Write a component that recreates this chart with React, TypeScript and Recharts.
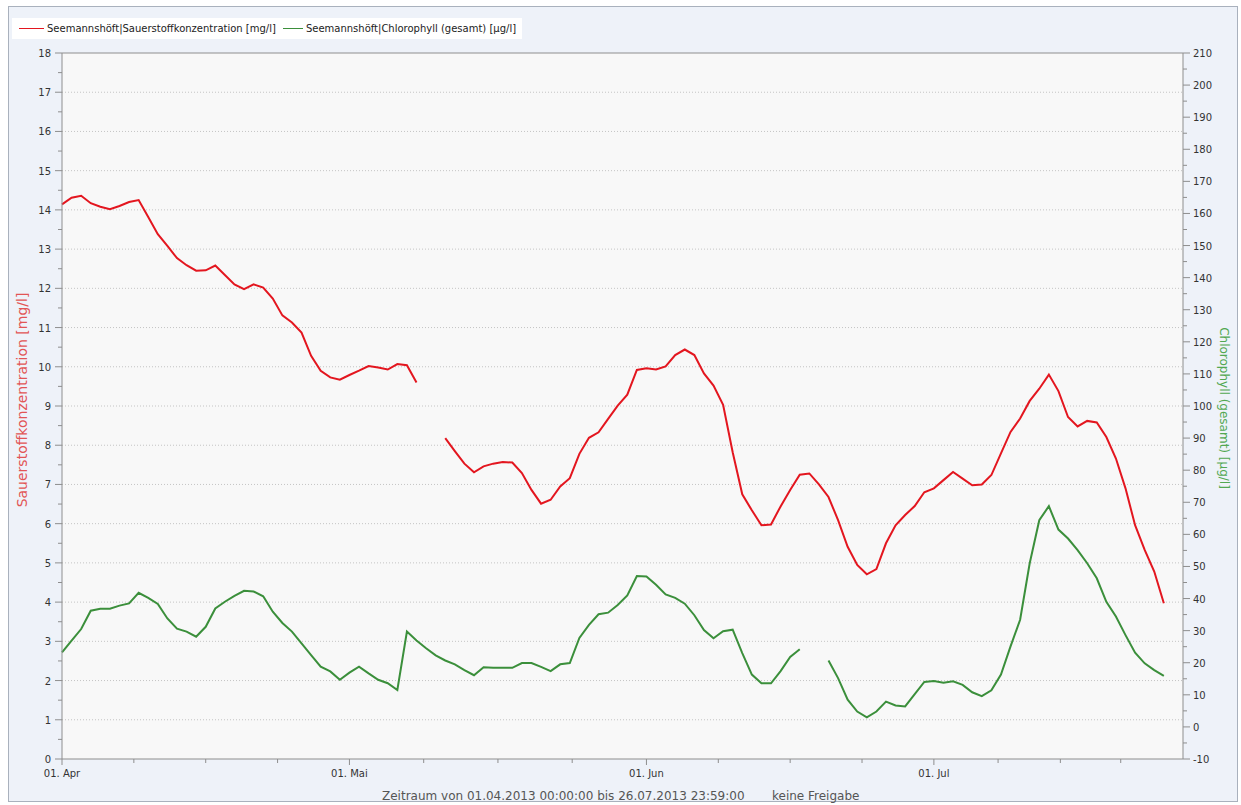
import React from 'react';
import { LineChart, Line, XAxis, YAxis, ReferenceLine, ReferenceArea } from 'recharts';

// day index 0 = 01.04.2013, 115 = 25.07.2013
const dayIndex: number[] = Array.from({ length: 116 }, (_, i) => i);

const oxygen: (number | null)[] = [
  14.14, 14.31, 14.36, 14.17, 14.08, 14.02, 14.10, 14.20, 14.25, 13.82,
  13.38, 13.08, 12.77, 12.59, 12.45, 12.46, 12.58, 12.34, 12.10, 11.98,
  12.10, 12.02, 11.74, 11.31, 11.13, 10.87, 10.28, 9.90, 9.73, 9.67,
  9.79, 9.90, 10.02, 9.98, 9.93, 10.07, 10.04, 9.60, null, null,
  8.18, 7.85, 7.53, 7.31, 7.46, 7.53, 7.57, 7.56, 7.29, 6.86,
  6.51, 6.61, 6.95, 7.16, 7.78, 8.19, 8.33, 8.67, 9.01, 9.29,
  9.92, 9.96, 9.93, 10.01, 10.30, 10.44, 10.30, 9.83, 9.52, 9.03,
  7.82, 6.75, 6.34, 5.96, 5.98, 6.44, 6.86, 7.25, 7.28, 7.00,
  6.68, 6.09, 5.41, 4.95, 4.71, 4.84, 5.50, 5.96, 6.22, 6.45,
  6.80, 6.90, 7.11, 7.32, 7.15, 6.98, 7.00, 7.24, 7.79, 8.34,
  8.68, 9.13, 9.44, 9.80, 9.38, 8.72, 8.48, 8.62, 8.58, 8.21,
  7.66, 6.90, 5.96, 5.33, 4.78, 3.97,
];

const chlorophyll: (number | null)[] = [
  23.2, 26.9, 30.5, 36.2, 36.8, 36.8, 37.8, 38.5, 41.8, 40.2,
  38.3, 33.8, 30.6, 29.7, 28.1, 31.2, 36.9, 39.0, 40.8, 42.4,
  42.2, 40.7, 35.9, 32.4, 29.7, 26.0, 22.4, 18.8, 17.3, 14.7,
  16.9, 18.8, 16.7, 14.7, 13.6, 11.5, 29.7, 26.9, 24.5, 22.3,
  20.7, 19.5, 17.7, 16.1, 18.6, 18.4, 18.4, 18.4, 19.9, 19.9,
  18.7, 17.4, 19.5, 19.9, 27.7, 31.8, 35.1, 35.6, 38.0, 41.0,
  47.0, 46.9, 44.3, 41.3, 40.2, 38.4, 34.8, 30.2, 27.6, 29.8,
  30.3, 23.0, 16.3, 13.6, 13.6, 17.4, 21.8, 24.2, null, null,
  20.7, 15.2, 8.5, 4.8, 3.0, 4.8, 7.9, 6.7, 6.4, 10.2,
  14.0, 14.3, 13.8, 14.2, 13.1, 10.8, 9.6, 11.4, 16.3, 25.1,
  33.4, 51.0, 64.4, 68.8, 61.5, 58.7, 55.1, 51.0, 46.3, 39.0,
  34.4, 28.6, 23.1, 19.8, 17.7, 15.9,
];

const xMajorTicks = [0, 30, 61, 91];
const xMajorLabels = ['01. Apr', '01. Mai', '01. Jun', '01. Jul'];
const xMinorTicks = [7.5, 15, 22.5, 37.75, 45.5, 53.25, 68.5, 76, 83.5, 97.7, 104.2, 110.5];

const leftMajorTicks = [0, 1, 2, 3, 4, 5, 6, 7, 8, 9, 10, 11, 12, 13, 14, 15, 16, 17, 18];
const leftMinorTicks = [0.5, 1.5, 2.5, 3.5, 4.5, 5.5, 6.5, 7.5, 8.5, 9.5, 10.5, 11.5, 12.5, 13.5, 14.5, 15.5, 16.5, 17.5];
const leftGridLines = [1, 2, 3, 4, 5, 6, 7, 8, 9, 10, 11, 12, 13, 14, 15, 16, 17];

const rightMajorTicks = [-10, 0, 10, 20, 30, 40, 50, 60, 70, 80, 90, 100, 110, 120, 130, 140, 150, 160, 170, 180, 190, 200, 210];
const rightMinorTicks = [-5, 5, 15, 25, 35, 45, 55, 65, 75, 85, 95, 105, 115, 125, 135, 145, 155, 165, 175, 185, 195, 205];

const seriesNames = [
  'Seemannshöft|Sauerstoffkonzentration [mg/l]',
  'Seemannshöft|Chlorophyll (gesamt) [µg/l]',
];
const leftTitle = 'Sauerstoffkonzentration [mg/l]';
const rightTitle = 'Chlorophyll (gesamt) [µg/l]';
const footerPeriod = 'Zeitraum von 01.04.2013 00:00:00 bis 26.07.2013 23:59:00';
const footerRelease = 'keine Freigabe';

const data = dayIndex.map((d, i) => ({ day: d, oxygen: oxygen[i], chl: chlorophyll[i] }));

const RED = '#e3161f';
const GREEN = '#3b8f3b';
const AXIS = '#8e8e8e';
const TXT = '#333333';
const FONT = '"DejaVu Sans", Verdana, sans-serif';

const XTick = (props: any) => {
  const { x, y, payload } = props;
  const idx = xMajorTicks.indexOf(payload.value);
  const major = idx >= 0;
  return (
    <g>
      <line x1={x} x2={x} y1={y} y2={y + (major ? 6 : 4)} stroke={AXIS} />
      {major && (
        <text x={x} y={y + 18} textAnchor="middle" fontSize={10} fontFamily={FONT} fill={TXT}>
          {xMajorLabels[idx]}
        </text>
      )}
    </g>
  );
};

const LeftTick = (props: any) => {
  const { x, y, payload } = props;
  const major = leftMajorTicks.indexOf(payload.value) >= 0;
  return (
    <g>
      <line x1={x - (major ? 7 : 4)} x2={x} y1={y} y2={y} stroke={AXIS} />
      {major && (
        <text x={x - 11} y={y + 4} textAnchor="end" fontSize={10} fontFamily={FONT} fill={TXT}>
          {payload.value}
        </text>
      )}
    </g>
  );
};

const RightTick = (props: any) => {
  const { x, y, payload } = props;
  const major = rightMajorTicks.indexOf(payload.value) >= 0;
  return (
    <g>
      <line x1={x} x2={x + (major ? 7 : 4)} y1={y} y2={y} stroke={AXIS} />
      {major && (
        <text x={x + 10} y={y + 4} textAnchor="start" fontSize={10} fontFamily={FONT} fill={TXT}>
          {payload.value}
        </text>
      )}
    </g>
  );
};

const xTicksAll = [...xMajorTicks, ...xMinorTicks].sort((a, b) => a - b);
const leftTicksAll = [...leftMajorTicks, ...leftMinorTicks].sort((a, b) => a - b);
const rightTicksAll = [...rightMajorTicks, ...rightMinorTicks].sort((a, b) => a - b);

export default function App() {
  return (
    <div style={{ position: 'absolute', left: 0, top: 0, width: 1241, height: 805, background: '#ffffff', overflow: 'hidden' }}>
      <div
        style={{
          position: 'absolute', left: 8, top: 6, width: 1230, height: 796,
          background: '#eef2f9', border: '1px solid #a9b1bd', boxSizing: 'border-box',
        }}
      />
      <div style={{ position: 'absolute', left: 0, top: 0 }}>
        <LineChart width={1241} height={805} data={data} margin={{ top: 53, right: 0, bottom: 0, left: 0 }}>
          <XAxis
            xAxisId="x"
            dataKey="day"
            type="number"
            domain={[0, 117]}
            ticks={xTicksAll}
            interval={0}
            tick={<XTick />}
            tickLine={false}
            tickSize={0}
            tickMargin={0}
            axisLine={{ stroke: AXIS }}
            height={46}
          />
          <YAxis
            yAxisId="left"
            orientation="left"
            type="number"
            domain={[0, 18]}
            ticks={leftTicksAll}
            interval={0}
            tick={<LeftTick />}
            tickLine={false}
            tickSize={0}
            tickMargin={0}
            axisLine={{ stroke: AXIS }}
            width={62}
            allowDataOverflow
          />
          <YAxis
            yAxisId="right"
            orientation="right"
            type="number"
            domain={[-10, 210]}
            ticks={rightTicksAll}
            interval={0}
            tick={<RightTick />}
            tickLine={false}
            tickSize={0}
            tickMargin={0}
            axisLine={{ stroke: AXIS }}
            width={58}
            allowDataOverflow
          />
          <ReferenceArea xAxisId="x" yAxisId="left" x1={0} x2={117} y1={0} y2={18} fill="#f8f8f8" fillOpacity={1} stroke="none" />
          {leftGridLines.map((v) => (
            <ReferenceLine key={v} xAxisId="x" yAxisId="left" y={v} stroke="#c4c4c4" strokeDasharray="1 2" />
          ))}
          <ReferenceLine xAxisId="x" yAxisId="left" y={18} stroke={AXIS} />
          <Line
            xAxisId="x"
            yAxisId="left"
            dataKey="oxygen"
            type="linear"
            stroke={RED}
            strokeWidth={2}
            dot={false}
            activeDot={false}
            isAnimationActive={false}
          />
          <Line
            xAxisId="x"
            yAxisId="right"
            dataKey="chl"
            type="linear"
            stroke={GREEN}
            strokeWidth={2}
            dot={false}
            activeDot={false}
            isAnimationActive={false}
          />
        </LineChart>
      </div>
      <div
        style={{
          position: 'absolute', left: 12, top: 18, width: 510, height: 21, background: '#ffffff',
          fontFamily: FONT, fontSize: 10, color: '#222', display: 'flex', alignItems: 'center', whiteSpace: 'nowrap',
        }}
      >
        <span style={{ display: 'inline-block', width: 25, height: 0, borderTop: `1px solid ${RED}`, marginLeft: 7, marginRight: 3 }} />
        <span>{seriesNames[0]}</span>
        <span style={{ display: 'inline-block', width: 20, height: 0, borderTop: `1px solid ${GREEN}`, marginLeft: 7, marginRight: 3 }} />
        <span>{seriesNames[1]}</span>
      </div>
      <svg width={1241} height={805} style={{ position: 'absolute', left: 0, top: 0, pointerEvents: 'none' }}>
        <text
          x={22}
          y={400}
          transform="rotate(-90 22 400)"
          textAnchor="middle"
          dominantBaseline="central"
          fontSize={14}
          fontFamily={FONT}
          fill="#e25555"
        >
          {leftTitle}
        </text>
        <text
          x={1224}
          y={408}
          transform="rotate(90 1224 408)"
          textAnchor="middle"
          dominantBaseline="central"
          fontSize={12}
          fontFamily={FONT}
          fill="#52a852"
        >
          {rightTitle}
        </text>
        <text x={382} y={800} fontSize={12} fontFamily={FONT} fill="#555555">
          {footerPeriod}
        </text>
        <text x={772} y={800} fontSize={12} fontFamily={FONT} fill="#555555">
          {footerRelease}
        </text>
      </svg>
    </div>
  );
}
